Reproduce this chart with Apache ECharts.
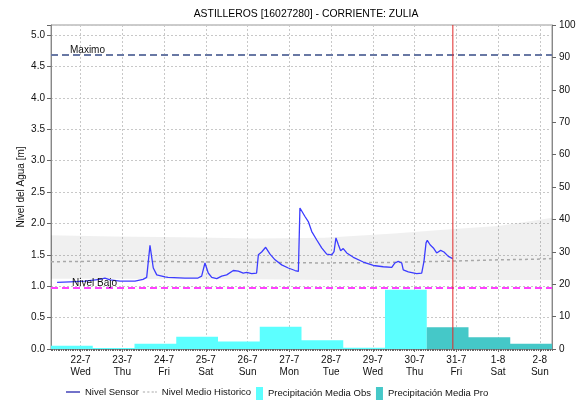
<!DOCTYPE html>
<html>
<head>
<meta charset="utf-8">
<script src="https://cdn.jsdelivr.net/npm/echarts@6.0.0/dist/echarts.min.js"></script>
<style>
  html, body { margin: 0; padding: 0; background: #fff; }
  #main { width: 577px; height: 403px; }
</style>
</head>
<body>
<div id="main"></div>
<script>
// horas contadas desde 22-7 00:00
var dayHours = [0, 24, 48, 72, 96, 120, 144, 168, 192, 216, 240, 264];
var dayDates = ['22-7', '23-7', '24-7', '25-7', '26-7', '27-7', '28-7', '29-7', '30-7', '31-7', '1-8', '2-8'];
var dayNames = ['Wed', 'Thu', 'Fri', 'Sat', 'Sun', 'Mon', 'Tue', 'Wed', 'Thu', 'Fri', 'Sat', 'Sun'];

// Nivel Sensor [m]
var sensorHours = [-13.5, -6, 2.5, 11, 14, 17, 22.7, 31.3, 35.9, 38, 39.9, 41.8, 43.8, 48.5, 50.3, 51.4,
  60, 67.5, 69.6, 71.5, 73.4, 75.4, 78.3, 81.1, 84, 87.8, 90.7, 93.5, 95.5, 98.4, 101.2,
  102.2, 104.1, 106.4, 108.9, 111.8, 115.6, 119.4, 123.3, 125.2, 126.1, 127.1, 129, 130.9,
  132.9, 135.7, 138.6, 141.5, 144.4, 145.7, 146.8, 148.2, 149.5, 151, 153, 156.8, 162.5,
  168.3, 174, 178.9, 180.7, 182.6, 184.6, 185.5, 188.4, 193.2, 196.1, 197.4, 198.6, 199.3,
  200.9, 202.8, 204.7, 207, 208.9, 211.4, 213.9];
var sensorLevels = [1.06, 1.07, 1.08, 1.11, 1.13, 1.10, 1.08, 1.08, 1.11, 1.14, 1.65, 1.29, 1.18, 1.15, 1.14, 1.12,
  1.13, 1.13, 1.16, 1.37, 1.21, 1.14, 1.12, 1.16, 1.18, 1.25, 1.24, 1.21, 1.22, 1.20, 1.21,
  1.50, 1.545, 1.62, 1.51, 1.42, 1.34, 1.29, 1.25, 1.235, 2.245, 2.27, 2.11, 2.03,
  1.87, 1.74, 1.61, 1.51, 1.50, 1.55, 1.77, 1.66, 1.565, 1.60, 1.53, 1.46, 1.385,
  1.33, 1.31, 1.30, 1.37, 1.395, 1.37, 1.26, 1.23, 1.20, 1.21, 1.395, 1.69, 1.73,
  1.66, 1.61, 1.53, 1.57, 1.545, 1.475, 1.44];

// Nivel medio historico y banda
var histHours = [-17, 20, 60, 100, 140, 180, 214, 240, 262, 271];
var histMean = [1.39, 1.40, 1.39, 1.38, 1.37, 1.38, 1.40, 1.42, 1.43, 1.44];
var bandLow = [1.12, 1.12, 1.11, 1.11, 1.10, 1.10, 1.10, 1.10, 1.10, 1.10];
var bandHigh = [1.81, 1.79, 1.78, 1.76, 1.77, 1.84, 1.91, 1.96, 2.05, 2.09];

// precipitacion diaria [mm], dias de 7:00 a 7:00
var obsStart = [-17, 7, 31, 55, 79, 103, 127, 151, 175];
var obsValues = [1.0, 0.3, 1.6, 3.8, 2.3, 6.9, 2.7, 0.4, 18.3];
var proStart = [199, 223, 247];
var proValues = [6.7, 3.6, 1.6];

var nivelMaximo = 4.68;
var nivelBajo = 0.97;
var horaActual = 214;
var nivelTope = 5.16;

function stepData(starts, vals) {
  var d = starts.map(function (s, i) { return [s, vals[i]]; });
  d.push([starts[starts.length - 1] + 24, vals[vals.length - 1]]);
  return d;
}
function pairs(xs, ys) {
  return xs.map(function (x, i) { return [x, ys[i]]; });
}

var font = 'Liberation Sans';
var lineIcon = 'path://M0,0L16,0L16,1.4L0,1.4Z';
var dotIcon = 'path://M0,0h2.5v1.4h-2.5zM5,0h2.5v1.4h-2.5zM10,0h2.5v1.4h-2.5zM14,0h2v1.4h-2z';
var legendText = { fontSize: 9.5, color: '#111', fontFamily: font };

var myChart = echarts.init(document.getElementById('main'));

var option = {
  animation: false,
  textStyle: { fontFamily: font },
  title: {
    text: 'ASTILLEROS [16027280] - CORRIENTE: ZULIA',
    left: 301, top: 4, textAlign: 'center',
    textStyle: { fontSize: 10.4, fontWeight: 'normal', color: '#000', fontFamily: font }
  },
  legend: [{
    left: 61, top: 382,
    itemWidth: 14, itemHeight: 12, itemGap: 4,
    textStyle: legendText,
    data: [
      { name: 'Nivel Sensor', icon: lineIcon, itemStyle: { color: '#1a1aa8' } },
      { name: 'Nivel Medio Historico', icon: dotIcon, itemStyle: { color: '#a8a8a8' } }
    ]
  }, {
    left: 251, top: 382,
    itemWidth: 7, itemHeight: 13, itemGap: 5,
    textStyle: legendText,
    data: [
      { name: 'Precipitación Media Obs', icon: 'rect' },
      { name: 'Precipitación Media Pro', icon: 'rect' }
    ]
  }],
  grid: {
    left: 51, right: 25, top: 25, bottom: 54,
    outerBoundsMode: 'none',
    show: true, borderColor: '#999', borderWidth: 1
  },
  xAxis: [{
    type: 'value', min: -17, max: 271,
    axisLine: { onZero: false, lineStyle: { color: '#888' } },
    axisTick: { customValues: dayHours, length: 3, lineStyle: { color: '#666' } },
    axisLabel: {
      customValues: dayHours, fontSize: 10, color: '#111', lineHeight: 12, margin: 5,
      formatter: function (v) {
        var i = dayHours.indexOf(v);
        return i < 0 ? '' : dayDates[i] + '\n' + dayNames[i];
      }
    },
    splitLine: { show: true, lineStyle: { color: '#c8c8c8', type: [2, 2] } }
  }, {
    type: 'value', min: -17, max: 271, interval: 1, position: 'bottom',
    axisLine: { show: false, onZero: false },
    axisTick: { length: 2, lineStyle: { color: '#666' } },
    axisLabel: { show: false },
    splitLine: { show: false }
  }],
  yAxis: [{
    type: 'value', min: 0, max: nivelTope, interval: 0.5,
    name: 'Nivel del Agua [m]', nameLocation: 'middle', nameGap: 25, nameMoveOverlap: false,
    nameTextStyle: { fontSize: 10, color: '#111' },
    axisLine: { show: true, onZero: false, lineStyle: { color: '#888' } },
    axisTick: { show: true, length: 4, lineStyle: { color: '#666' } },
    axisLabel: {
      fontSize: 10, color: '#111', margin: 6,
      formatter: function (v) {
        return Math.abs(v * 2 - Math.round(v * 2)) < 1e-6 ? v.toFixed(1) : '';
      }
    },
    splitLine: { show: true, lineStyle: { color: '#c8c8c8', type: [2, 2] } }
  }, {
    type: 'value', min: 0, max: 100, interval: 10, position: 'right',
    axisLine: { show: true, onZero: false, lineStyle: { color: '#888' } },
    axisTick: { show: true, length: 4, lineStyle: { color: '#666' } },
    axisLabel: { fontSize: 10, color: '#111', margin: 7 },
    splitLine: { show: false }
  }],
  series: [{
    name: 'banda', type: 'custom', silent: true, z: 1,
    data: [[histHours[0], bandLow[0]]],
    renderItem: function (params, api) {
      var pts = [];
      for (var i = 0; i < histHours.length; i++) {
        pts.push(api.coord([histHours[i], bandHigh[i]]));
      }
      for (var j = histHours.length - 1; j >= 0; j--) {
        pts.push(api.coord([histHours[j], bandLow[j]]));
      }
      return {
        type: 'polygon',
        shape: { points: pts },
        style: { fill: 'rgba(0,0,0,0.06)' }
      };
    }
  }, {
    name: 'Precipitación Media Obs', type: 'line', yAxisIndex: 1, step: 'end', symbol: 'none',
    color: '#5cffff',
    lineStyle: { width: 0 },
    areaStyle: { color: '#5cffff', opacity: 1 },
    data: stepData(obsStart, obsValues)
  }, {
    name: 'Precipitación Media Pro', type: 'line', yAxisIndex: 1, step: 'end', symbol: 'none',
    color: '#45c8c8',
    lineStyle: { width: 0 },
    areaStyle: { color: '#45c8c8', opacity: 1 },
    data: stepData(proStart, proValues)
  }, {
    name: 'ahora', type: 'line', symbol: 'none', silent: true, z: 5,
    lineStyle: { color: '#e02828', width: 1 },
    data: [[horaActual, 0], [horaActual, nivelTope]]
  }, {
    name: 'Nivel Medio Historico', type: 'line', symbol: 'none',
    color: '#a8a8a8',
    lineStyle: { width: 1.5, type: [3, 3], color: '#a8a8a8' },
    data: pairs(histHours, histMean)
  }, {
    name: 'Nivel Sensor', type: 'line', symbol: 'none',
    color: '#3c3cff',
    lineStyle: { width: 1.3, color: '#3c3cff' },
    data: pairs(sensorHours, sensorLevels),
    markLine: {
      silent: true, symbol: 'none', animation: false,
      data: [
        { yAxis: nivelMaximo,
          lineStyle: { color: '#6878a4', width: 2, type: [7, 4] },
          label: { show: true, formatter: 'Maximo', position: 'insideStartTop', distance: [19, 0],
                   fontSize: 10, color: '#111' } },
        { yAxis: nivelBajo,
          lineStyle: { color: '#ff40ff', width: 2, type: [7, 4] },
          label: { show: true, formatter: 'Nivel Bajo', position: 'insideStartTop', distance: [21, 0],
                   fontSize: 10, color: '#111' } }
      ]
    }
  }]
};

myChart.setOption(option);
</script>
</body>
</html>
